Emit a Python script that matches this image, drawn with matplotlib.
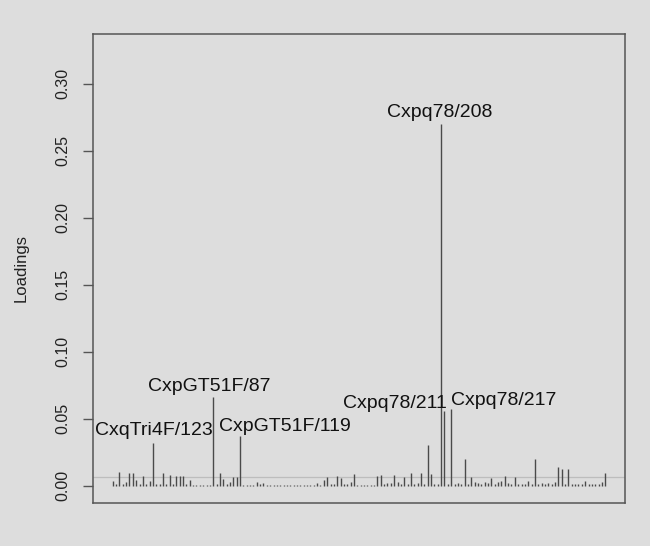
import numpy as np
import matplotlib
matplotlib.use("Agg")
import matplotlib.pyplot as plt

plt.rcParams['font.family'] = ['Liberation Sans', 'DejaVu Sans']

# loading of each variable (allele), in order 1..148
loadings = [
    0.0037, 0.0010, 0.0099, 0.0010, 0.0025, 0.0092, 0.0092, 0.0045, 0.0012, 0.0074,
    0.0010, 0.0037, 0.0317, 0.0010, 0.0010, 0.0094, 0.0010, 0.0079, 0.0010, 0.0074,
    0.0074, 0.0074, 0.0010, 0.0045, 0.0008, 0.0008, 0.0008, 0.0008, 0.0008, 0.0008,
    0.0660, 0.0010, 0.0094, 0.0050, 0.0010, 0.0025, 0.0062, 0.0062, 0.0370, 0.0008,
    0.0008, 0.0008, 0.0008, 0.0030, 0.0010, 0.0020, 0.0008, 0.0008, 0.0008, 0.0008,
    0.0008, 0.0008, 0.0008, 0.0008, 0.0008, 0.0008, 0.0008, 0.0008, 0.0008, 0.0008,
    0.0008, 0.0017, 0.0008, 0.0042, 0.0062, 0.0010, 0.0010, 0.0074, 0.0057, 0.0010,
    0.0010, 0.0025, 0.0087, 0.0008, 0.0008, 0.0008, 0.0008, 0.0008, 0.0008, 0.0074,
    0.0079, 0.0010, 0.0020, 0.0020, 0.0079, 0.0030, 0.0010, 0.0062, 0.0010, 0.0094,
    0.0010, 0.0020, 0.0094, 0.0012, 0.0300, 0.0087, 0.0010, 0.0010, 0.2700, 0.0560,
    0.0012, 0.0570, 0.0015, 0.0022, 0.0010, 0.0198, 0.0010, 0.0062, 0.0030, 0.0017,
    0.0010, 0.0025, 0.0020, 0.0055, 0.0012, 0.0025, 0.0037, 0.0074, 0.0017, 0.0010,
    0.0062, 0.0010, 0.0010, 0.0010, 0.0037, 0.0010, 0.0198, 0.0010, 0.0017, 0.0010,
    0.0017, 0.0010, 0.0030, 0.0136, 0.0124, 0.0010, 0.0124, 0.0010, 0.0010, 0.0010,
    0.0010, 0.0037, 0.0010, 0.0010, 0.0010, 0.0010, 0.0025, 0.0094,
]
threshold = 0.0067

# labelled variables (1-based index) and their names
label_idx = [13, 31, 39, 99, 100, 102]
label_names = ["CxqTri4F/123", "CxpGT51F/87", "CxpGT51F/119",
               "Cxpq78/208", "Cxpq78/211", "Cxpq78/217"]
# text offsets from bar top, in pixels (dx, dy)
label_offsets = [(1, 8), (-4, 6), (45, 5), (-1, 7), (-50, 3), (53, 4)]

yticks = [0.00, 0.05, 0.10, 0.15, 0.20, 0.25, 0.30]

bg = "#dddddd"
x = np.arange(1, len(loadings) + 1)
n = len(loadings)
ymax = 1.2 * max(loadings)

fig = plt.figure(figsize=(6.5, 5.46), dpi=100, facecolor=bg)
ax = fig.add_axes([93 / 650, 1 - 503 / 546, 532 / 650, 469 / 546])
ax.set_facecolor(bg)

ax.vlines(x, 0, loadings, color="#4a4a4a", lw=1.0)
ax.axhline(threshold, color="#bdbdbd", lw=0.9, zorder=0)

px = 72 / 100  # pixels -> points
for i, name, (dx, dy) in zip(label_idx, label_names, label_offsets):
    ax.annotate(name, (i, loadings[i - 1]), xytext=(dx * px, dy * px),
                textcoords="offset points", ha="center", va="baseline",
                fontsize=14, color="#111111")

ax.set_xlim(1 - 0.04 * (n - 1), n + 0.04 * (n - 1))
ax.set_ylim(-0.04 * ymax, ymax * 1.04)
ax.set_xticks([])
ax.set_yticks(yticks)
ax.set_yticklabels([f"{v:.2f}" for v in yticks], rotation=90, va="center",
                   fontsize=11.5, color="#222222")
ax.tick_params(axis="y", length=7, width=1.0, color="#555555", pad=9)
for s in ax.spines.values():
    s.set_color("#555555")
    s.set_linewidth(1.1)

ax.set_ylabel("Loadings", fontsize=12, color="#222222", va="center")
ax.yaxis.set_label_coords(-0.135, 0.5)

fig.savefig("out.png", dpi=100, facecolor=bg)
